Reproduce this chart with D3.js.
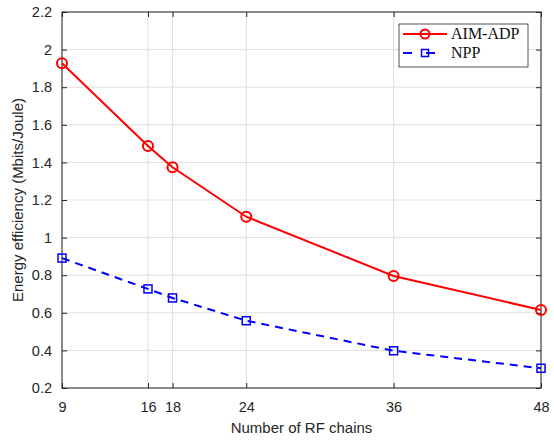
<!DOCTYPE html>
<html>
<head>
<meta charset="utf-8">
<script src="https://cdn.jsdelivr.net/npm/d3@7"></script>
<style>
  body { margin: 0; background: #fff; }
  text { font-family: "Liberation Sans", Arial, sans-serif; }
</style>
</head>
<body>
<div id="chart"></div>
<script>

var rfChains = [9, 16, 18, 24, 36, 48];
var aimAdp = [1.927, 1.487, 1.374, 1.111, 0.796, 0.615];
var npp = [0.891, 0.727, 0.679, 0.558, 0.398, 0.305];
var yTicks = [0.2, 0.4, 0.6, 0.8, 1, 1.2, 1.4, 1.6, 1.8, 2, 2.2];
var seriesNames = ['AIM-ADP', 'NPP'];

var width = 554, height = 441;
var margin = {left: 62, top: 12, right: 13, bottom: 53};
var plotW = width - margin.left - margin.right;
var plotH = height - margin.top - margin.bottom;

var svg = d3.select('#chart')
	.append('svg')
		.attr('width', width)
		.attr('height', height);

var g = svg.append('g')
	.attr('transform', 'translate(' + margin.left + ',' + margin.top + ')');

var x = d3.scaleLinear().domain([9, 48]).range([0, plotW]);
var y = d3.scaleLinear().domain([0.2, 2.2]).range([plotH, 0]);

// grid
g.selectAll('.gx').data(rfChains).enter().append('line')
	.attr('x1', function(d) { return x(d); })
	.attr('x2', function(d) { return x(d); })
	.attr('y1', 0).attr('y2', plotH)
	.style('stroke', '#dfdfdf').style('stroke-width', 1);

g.selectAll('.gy').data(yTicks).enter().append('line')
	.attr('y1', function(d) { return y(d); })
	.attr('y2', function(d) { return y(d); })
	.attr('x1', 0).attr('x2', plotW)
	.style('stroke', '#dfdfdf').style('stroke-width', 1);

// axes, ticks inward, box
var axisColor = '#262626';

function styleAxis(sel) {
	sel.select('.domain').remove();
	sel.selectAll('.tick line').style('stroke', axisColor);
	sel.selectAll('.tick text')
		.style('fill', axisColor)
		.style('font-size', '14.5px')
		.style('font-family', '"Liberation Sans", Arial, sans-serif');
}

g.append('g')
	.attr('transform', 'translate(0,' + plotH + ')')
	.call(d3.axisBottom(x).tickValues(rfChains).tickSize(-5).tickPadding(14).tickFormat(d3.format('d')))
	.call(styleAxis);

g.append('g')
	.call(d3.axisTop(x).tickValues(rfChains).tickSize(-5).tickFormat(''))
	.call(styleAxis);

g.append('g')
	.call(d3.axisLeft(y).tickValues(yTicks).tickSize(-5).tickPadding(10).tickFormat(function(d) { return d3.format('~g')(d); }))
	.call(styleAxis);

g.append('g')
	.attr('transform', 'translate(' + plotW + ',0)')
	.call(d3.axisRight(y).tickValues(yTicks).tickSize(-5).tickFormat(''))
	.call(styleAxis);

g.append('rect')
	.attr('x', 0).attr('y', 0)
	.attr('width', plotW).attr('height', plotH)
	.style('fill', 'none')
	.style('stroke', axisColor)
	.style('stroke-width', 1);

// lines
var line = d3.line()
	.x(function(d) { return x(d[0]); })
	.y(function(d) { return y(d[1]); });

var aimData = d3.zip(rfChains, aimAdp);
var nppData = d3.zip(rfChains, npp);

g.append('path')
	.datum(aimData)
	.attr('d', line)
	.style('fill', 'none')
	.style('stroke', '#ff0000')
	.style('stroke-width', 2);

g.append('path')
	.datum(nppData)
	.attr('d', line)
	.style('fill', 'none')
	.style('stroke', '#0000ff')
	.style('stroke-width', 2)
	.style('stroke-dasharray', '8,6');

g.selectAll('.mk1').data(aimData).enter().append('circle')
	.attr('cx', function(d) { return x(d[0]); })
	.attr('cy', function(d) { return y(d[1]); })
	.attr('r', 5)
	.style('fill', 'none')
	.style('stroke', '#ff0000')
	.style('stroke-width', 2);

g.selectAll('.mk2').data(nppData).enter().append('rect')
	.attr('x', function(d) { return x(d[0]) - 4; })
	.attr('y', function(d) { return y(d[1]) - 4; })
	.attr('width', 8).attr('height', 8)
	.style('fill', 'none')
	.style('stroke', '#0000ff')
	.style('stroke-width', 1.5);

// axis labels
svg.append('text')
	.attr('x', margin.left + plotW / 2)
	.attr('y', 433)
	.attr('text-anchor', 'middle')
	.style('font-size', '15px')
	.style('fill', axisColor)
	.text('Number of RF chains');

svg.append('text')
	.attr('transform', 'translate(23,' + (margin.top + plotH / 2) + ') rotate(-90)')
	.attr('text-anchor', 'middle')
	.style('font-size', '15px')
	.style('fill', axisColor)
	.text('Energy efficiency (Mbits/Joule)');

// legend
var leg = svg.append('g').attr('transform', 'translate(399,24)');
leg.append('rect')
	.attr('width', 129).attr('height', 43)
	.style('fill', '#fff')
	.style('stroke', axisColor)
	.style('stroke-width', 0.8);

leg.append('line')
	.attr('x1', 4).attr('x2', 48).attr('y1', 10).attr('y2', 10)
	.style('stroke', '#ff0000').style('stroke-width', 2);
leg.append('circle')
	.attr('cx', 26).attr('cy', 10).attr('r', 4.5)
	.style('fill', 'none').style('stroke', '#ff0000').style('stroke-width', 2);

leg.append('line')
	.attr('x1', 4).attr('x2', 48).attr('y1', 29).attr('y2', 29)
	.style('stroke', '#0000ff').style('stroke-width', 2)
	.style('stroke-dasharray', '9,14');
leg.append('rect')
	.attr('x', 22.5).attr('y', 25.5).attr('width', 7).attr('height', 7)
	.style('fill', 'none').style('stroke', '#0000ff').style('stroke-width', 1.5);

leg.selectAll('.lt').data(seriesNames).enter().append('text')
	.attr('x', 52)
	.attr('y', function(d, i) { return 15 + i * 19; })
	.style('font-family', '"Liberation Serif", "Times New Roman", serif')
	.style('font-size', '16px')
	.style('fill', '#111')
	.text(function(d) { return d; });

</script>
</body>
</html>
